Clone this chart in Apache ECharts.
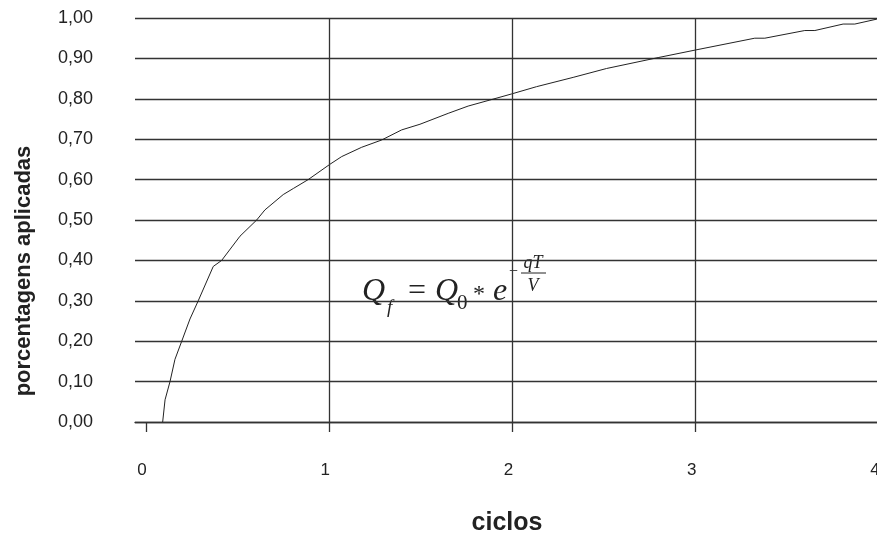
<!DOCTYPE html>
<html>
<head>
<meta charset="utf-8">
<script src="https://cdn.jsdelivr.net/npm/echarts@6/dist/echarts.min.js"></script>
<style>
  html, body { margin: 0; padding: 0; background: #fff; }
  #chart { width: 877px; height: 533px; }
</style>
</head>
<body>
<div id="chart"></div>
<script>
// curve (ciclos -> porcentagem)
var ciclos = [0.091, 0.104, 0.131, 0.158, 0.195, 0.240, 0.285, 0.367, 0.413, 0.513,
  0.604, 0.649, 0.749, 0.804, 0.885, 1.004, 1.068, 1.177, 1.286, 1.395,
  1.495, 1.649, 1.758, 1.877, 1.995, 2.131, 2.331, 2.513, 2.795, 3.001,
  3.322, 3.377, 3.595, 3.650, 3.804, 3.868, 3.986, 4.0];
var porcentagens = [0.000, 0.055, 0.100, 0.155, 0.200, 0.255, 0.300, 0.385, 0.400, 0.460,
  0.500, 0.525, 0.563, 0.578, 0.600, 0.638, 0.657, 0.680, 0.698, 0.723,
  0.737, 0.764, 0.782, 0.797, 0.812, 0.830, 0.853, 0.875, 0.902, 0.921,
  0.950, 0.950, 0.969, 0.969, 0.985, 0.985, 0.997, 1.0];
var xLabels = [0, 1, 2, 3, 4];
var xTicks = [0, 1, 2, 3];
var vLines = [1, 2, 3];

var pts = [];
for (var i = 0; i < ciclos.length; i++) {
  pts.push([ciclos[i], porcentagens[i]]);
}

var chart = echarts.init(document.getElementById('chart'));
var serif = '"Liberation Serif", "DejaVu Serif", serif';
var sans = '"Liberation Sans", Arial, sans-serif';

var option = {
  backgroundColor: '#fff',
  animation: false,
  grid: { left: 135, right: -2, top: 18, bottom: 111, containLabel: false, outerBoundsMode: 'none' },
  xAxis: {
    type: 'value',
    min: -0.06,
    max: 4,
    name: 'ciclos',
    nameLocation: 'middle',
    nameGap: 89,
    nameTextStyle: { fontFamily: sans, fontWeight: 'bold', fontSize: 25, color: '#222' },
    axisLine: { show: true, lineStyle: { color: '#333', width: 1.3 } },
    axisTick: { show: true, customValues: xTicks, length: 10, lineStyle: { color: '#333', width: 1.3 } },
    axisLabel: {
      customValues: xLabels,
      margin: 40,
      hideOverlap: false,
      padding: [0, 8, 0, 0],
      fontFamily: sans,
      fontSize: 17,
      color: '#222'
    },
    splitLine: { show: false }
  },
  yAxis: {
    type: 'value',
    min: 0,
    max: 1,
    interval: 0.1,
    axisLine: { show: false },
    axisTick: { show: false },
    axisLabel: {
      margin: 42,
      fontFamily: sans,
      fontSize: 18,
      color: '#222',
      formatter: function (v) { return v.toFixed(2).replace('.', ','); }
    },
    splitLine: { show: true, lineStyle: { color: '#333', width: 1.3 } }
  },
  series: [{
    type: 'line',
    data: pts,
    showSymbol: false,
    lineStyle: { color: '#222', width: 1 },
    markLine: {
      silent: true,
      symbol: 'none',
      label: { show: false },
      lineStyle: { color: '#333', width: 1.3, type: 'solid' },
      data: vLines.map(function (v) { return { xAxis: v }; })
    },
    z: 3
  }],
  graphic: [
    { type: 'text', x: 24, y: 271, rotation: Math.PI / 2,
      style: { text: 'porcentagens aplicadas', font: 'bold 22px ' + sans, fill: '#222', align: 'center', verticalAlign: 'middle' } },
    { type: 'text', x: 362, y: 291.5, style: { text: 'Q', font: 'italic 32px ' + serif, fill: '#222', verticalAlign: 'middle' } },
    { type: 'text', x: 387, y: 307.5, style: { text: 'f', font: 'italic 19px ' + serif, fill: '#222', verticalAlign: 'middle' } },
    { type: 'text', x: 408, y: 291.5, style: { text: '=', font: '32px ' + serif, fill: '#222', verticalAlign: 'middle' } },
    { type: 'text', x: 435, y: 291.5, style: { text: 'Q', font: 'italic 32px ' + serif, fill: '#222', verticalAlign: 'middle' } },
    { type: 'text', x: 457, y: 303, style: { text: '0', font: '21px ' + serif, fill: '#222', verticalAlign: 'middle' } },
    { type: 'text', x: 473, y: 295, style: { text: '*', font: '24px ' + serif, fill: '#222', verticalAlign: 'middle' } },
    { type: 'text', x: 493, y: 291.5, style: { text: 'e', font: 'italic 32px ' + serif, fill: '#222', verticalAlign: 'middle' } },
    { type: 'text', x: 509, y: 272, style: { text: '\u2212', font: '16px ' + serif, fill: '#222', verticalAlign: 'middle' } },
    { type: 'text', x: 533, y: 263.5, style: { text: 'qT', font: 'italic 18px ' + serif, fill: '#222', align: 'center', verticalAlign: 'middle' } },
    { type: 'line', shape: { x1: 521, y1: 273, x2: 546, y2: 273 }, style: { stroke: '#222', lineWidth: 1 } },
    { type: 'text', x: 533, y: 286.5, style: { text: 'V', font: 'italic 18px ' + serif, fill: '#222', align: 'center', verticalAlign: 'middle' } }
  ]
};

chart.setOption(option);
</script>
</body>
</html>
